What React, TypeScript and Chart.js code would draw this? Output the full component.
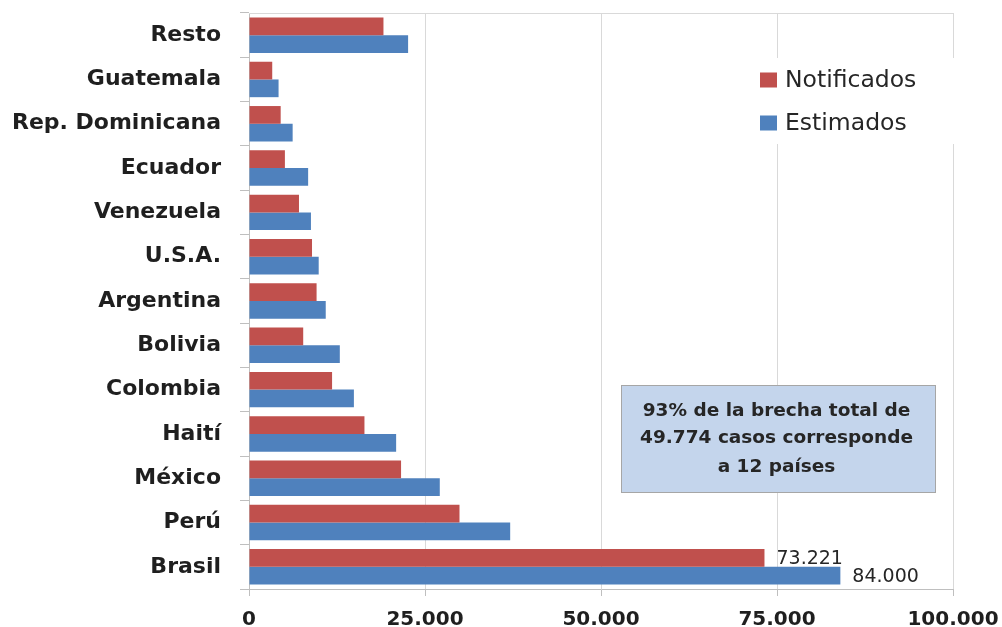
import React, { useEffect, useRef } from "react";
import { Chart, registerables } from "chart.js";

Chart.register(...registerables);

const categories = [
  "Resto",
  "Guatemala",
  "Rep. Dominicana",
  "Ecuador",
  "Venezuela",
  "U.S.A.",
  "Argentina",
  "Bolivia",
  "Colombia",
  "Haití",
  "México",
  "Perú",
  "Brasil",
];
const notificados = [19100, 3300, 4500, 5100, 7100, 8950, 9600, 7700, 11800, 16400, 21600, 29900, 73221];
const estimados = [22600, 4200, 6200, 8400, 8800, 9900, 10900, 12900, 14900, 20900, 27100, 37100, 84000];
const seriesNames = ["Notificados", "Estimados"];
const xMin = 0;
const xMax = 100000;
const xStep = 25000;
const labelledIndex = 12; // Brasil
const noteLines = ["93% de la brecha total de", "49.774 casos corresponde", "a 12 países"];

const RED = "#c0504d";
const BLUE = "#4f81bd";
const FONT = "'DejaVu Sans', sans-serif";

function fmt(v: number): string {
  const s = Math.round(v).toString();
  return s.replace(/\B(?=(\d{3})+(?!\d))/g, ".");
}

const overlayPlugin = {
  id: "overlay",
  beforeDatasetsDraw(chart: any) {
    const { ctx, chartArea } = chart;
    ctx.save();
    ctx.strokeStyle = "#d9d9d9";
    ctx.lineWidth = 1;
    ctx.beginPath();
    ctx.moveTo(chartArea.left, Math.round(chartArea.top) + 0.5);
    ctx.lineTo(chartArea.right, Math.round(chartArea.top) + 0.5);
    ctx.stroke();
    ctx.restore();
  },
  afterDatasetsDraw(chart: any) {
    const { ctx } = chart;
    ctx.save();
    // value labels for Brasil
    ctx.font = `19px ${FONT}`;
    ctx.fillStyle = "#262626";
    ctx.textAlign = "left";
    ctx.textBaseline = "middle";
    chart.data.datasets.forEach((ds: any, di: number) => {
      const el = chart.getDatasetMeta(di).data[labelledIndex];
      ctx.fillText(fmt(ds.data[labelledIndex]), el.x + 12, el.y + 1);
    });

    // legend
    ctx.fillStyle = "#ffffff";
    ctx.fillRect(752, 58, 208, 86);
    const items = [
      { label: seriesNames[0], color: RED, y: 79.5 },
      { label: seriesNames[1], color: BLUE, y: 122.5 },
    ];
    items.forEach((it) => {
      ctx.fillStyle = it.color;
      ctx.fillRect(760, it.y - 7, 17, 15);
      ctx.fillStyle = "#262626";
      ctx.font = `23.5px ${FONT}`;
      ctx.textAlign = "left";
      ctx.textBaseline = "middle";
      ctx.fillText(it.label, 785, it.y + 1);
    });

    // note box
    const bx = 621, by = 385, bw = 315, bh = 108;
    ctx.fillStyle = "#c4d5ec";
    ctx.fillRect(bx, by, bw, bh);
    ctx.strokeStyle = "#a6a6a6";
    ctx.lineWidth = 1;
    ctx.strokeRect(bx + 0.5, by + 0.5, bw - 1, bh - 1);
    ctx.fillStyle = "#262626";
    ctx.font = `bold 18.5px ${FONT}`;
    ctx.textAlign = "center";
    ctx.textBaseline = "middle";
    const ys = [411, 438, 467];
    noteLines.forEach((t, i) => ctx.fillText(t, bx + bw / 2 - 2, ys[i]));
    ctx.restore();
  },
};

export default function App() {
  const ref = useRef<HTMLCanvasElement>(null);
  useEffect(() => {
    if (!ref.current) return;
    const chart = new Chart(ref.current, {
      type: "bar",
      data: {
        labels: categories,
        datasets: [
          { label: seriesNames[0], data: notificados, backgroundColor: RED, borderWidth: 0 },
          { label: seriesNames[1], data: estimados, backgroundColor: BLUE, borderWidth: 0 },
        ],
      },
      options: {
        indexAxis: "y",
        responsive: false,
        animation: false,
        devicePixelRatio: 1,
        categoryPercentage: 0.8,
        barPercentage: 1,
        layout: { padding: { top: 13, right: 49, left: 0, bottom: 0 } },
        plugins: {
          legend: { display: false },
          tooltip: { enabled: false },
        },
        scales: {
          x: {
            min: xMin,
            max: xMax,
            ticks: {
              stepSize: xStep,
              callback: (v: any) => fmt(Number(v)),
              font: { family: FONT, size: 20, weight: "bold" },
              color: "#1f1f1f",
              padding: 12,
              maxRotation: 0,
            },
            grid: {
              color: "#d9d9d9",
              lineWidth: 1,
              drawTicks: true,
              tickLength: 7,
              tickColor: "#bfbfbf",
            },
            border: { display: true, color: "#bfbfbf" },
            afterFit: (s: any) => {
              s.height = 38;
              s.paddingLeft = 0;
              s.paddingRight = 0;
            },
          },
          y: {
            grid: {
              drawOnChartArea: false,
              drawTicks: true,
              tickLength: 9,
              color: "#bfbfbf",
              offset: true,
            },
            border: { display: true, color: "#bfbfbf" },
            ticks: {
              font: { family: FONT, size: 22, weight: "bold" },
              color: "#1f1f1f",
              padding: 19,
            },
            afterFit: (s: any) => {
              s.width = 249;
              s.paddingTop = 0;
              s.paddingBottom = 0;
            },
          },
        },
      },
      plugins: [overlayPlugin],
    } as any);
    return () => chart.destroy();
  }, []);
  return (
    <div style={{ position: "fixed", left: 0, top: 0, width: 1002, height: 627, background: "#fff" }}>
      <canvas ref={ref} width={1002} height={627} />
    </div>
  );
}
